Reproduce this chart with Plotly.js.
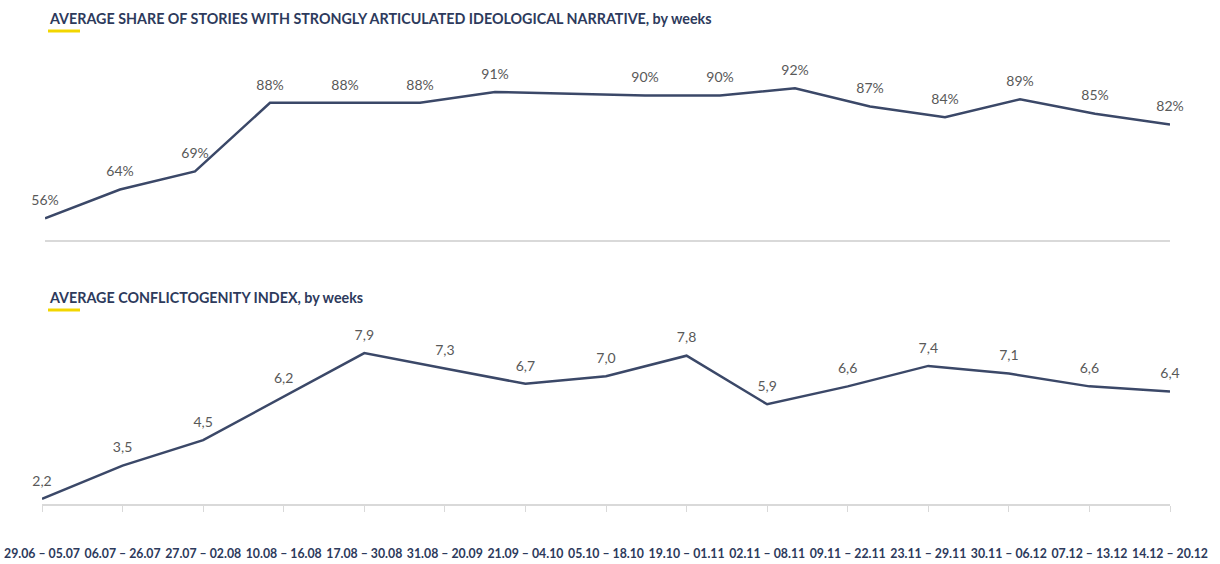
<!DOCTYPE html>
<html>
<head>
<meta charset="utf-8">
<script src="https://cdn.plot.ly/plotly-3.0.1.min.js"></script>
<style>html,body{margin:0;padding:0;background:#fff;}#chart{width:1220px;height:564px;}</style>
</head>
<body>
<div id="chart"></div>
<script>
// Top panel: share of stories with strongly articulated ideological narrative (%), 16 weekly points
const shareValues = [56, 64, 69, 88, 88, 88, 91, 90.5, 90, 90, 92, 87, 84, 89, 85, 82];
const shareLabels = ["56%", "64%", "69%", "88%", "88%", "88%", "91%", "", "90%", "90%", "92%", "87%", "84%", "89%", "85%", "82%"];

// Bottom panel: conflictogenity index, 15 weekly points
const weekLabels = ["29.06 – 05.07", "06.07 – 26.07", "27.07 – 02.08", "10.08 – 16.08", "17.08 – 30.08",
  "31.08 – 20.09", "21.09 – 04.10", "05.10 – 18.10", "19.10 – 01.11", "02.11 – 08.11",
  "09.11 – 22.11", "23.11 – 29.11", "30.11 – 06.12", "07.12 – 13.12", "14.12 – 20.12"];
const conflictValues = [2.2, 3.5, 4.5, 6.2, 7.9, 7.3, 6.7, 7.0, 7.8, 5.9, 6.6, 7.4, 7.1, 6.6, 6.4];

const titleTop = "AVERAGE SHARE OF STORIES WITH STRONGLY ARTICULATED IDEOLOGICAL NARRATIVE, by weeks";
const titleBottom = "AVERAGE CONFLICTOGENITY INDEX, by weeks";

const navy = "#3b4868";
const labelGray = "#595959";
const fontFam = "Lato, 'Open Sans', sans-serif";

const topX = shareValues.map((_, i) => i);
const botX = conflictValues.map((_, i) => i);

const traces = [
  {
    x: topX, y: shareValues, xaxis: "x2", yaxis: "y2",
    type: "scatter", mode: "lines+markers+text",
    line: {color: navy, width: 2.5},
    marker: {size: 14, color: "rgba(0,0,0,0)"},
    text: shareLabels, textposition: "top center",
    textfont: {family: fontFam, size: 14, color: labelGray},
    cliponaxis: false, hoverinfo: "skip"
  },
  {
    x: botX, y: conflictValues, xaxis: "x", yaxis: "y",
    type: "scatter", mode: "lines+markers+text",
    line: {color: navy, width: 2.5},
    marker: {size: 14, color: "rgba(0,0,0,0)"},
    text: conflictValues.map(v => v.toFixed(1).replace(".", ",")),
    textposition: "top center",
    textfont: {family: fontFam, size: 14, color: labelGray},
    cliponaxis: false, hoverinfo: "skip"
  }
];

const layout = {
  width: 1220, height: 564,
  margin: {l: 0, r: 0, t: 0, b: 0},
  paper_bgcolor: "#fff", plot_bgcolor: "#fff",
  showlegend: false,
  font: {family: fontFam},
  xaxis: {
    domain: [42/1220, 1170/1220], range: [0, 14],
    tickmode: "array", tickvals: botX, ticktext: weekLabels,
    showline: true, linecolor: "#d9d9d9", linewidth: 1.5,
    ticks: "outside", ticklen: 6, tickcolor: "#d9d9d9",
    showgrid: false, zeroline: false,
    ticklabelstandoff: 32,
    tickfont: {family: fontFam, size: 12.3, color: "#2d3a5c", weight: "bold"}
  },
  yaxis: {
    domain: [1 - 504/564, 1 - 325/564], range: [2, 9],
    visible: false, showgrid: false, zeroline: false
  },
  xaxis2: {
    anchor: "y2",
    domain: [45/1220, 1170/1220], range: [0, 15],
    showline: true, linecolor: "#d9d9d9", linewidth: 1.5,
    showticklabels: false, ticks: "", showgrid: false, zeroline: false
  },
  yaxis2: {
    anchor: "x2",
    domain: [1 - 240/564, 1 - 59.5/564], range: [50, 100],
    visible: false, showgrid: false, zeroline: false
  },
  annotations: [
    {text: titleTop, xref: "paper", yref: "paper", x: 47/1220, y: 1 - 8/564,
     xanchor: "left", yanchor: "top", showarrow: false,
     font: {family: fontFam, size: 14.3, color: "#2d3a5c", weight: "bold"}},
    {text: titleBottom, xref: "paper", yref: "paper", x: 47/1220, y: 1 - 287/564,
     xanchor: "left", yanchor: "top", showarrow: false,
     font: {family: fontFam, size: 14.3, color: "#2d3a5c", weight: "bold"}}
  ],
  shapes: [
    {type: "line", xref: "paper", yref: "paper", x0: 48/1220, x1: 80/1220,
     y0: 1 - 31/564, y1: 1 - 31/564, line: {color: "#f2d600", width: 3}},
    {type: "line", xref: "paper", yref: "paper", x0: 48/1220, x1: 80/1220,
     y0: 1 - 310/564, y1: 1 - 310/564, line: {color: "#f2d600", width: 3}}
  ]
};

Plotly.newPlot("chart", traces, layout, {displayModeBar: false, staticPlot: true});
</script>
</body>
</html>
